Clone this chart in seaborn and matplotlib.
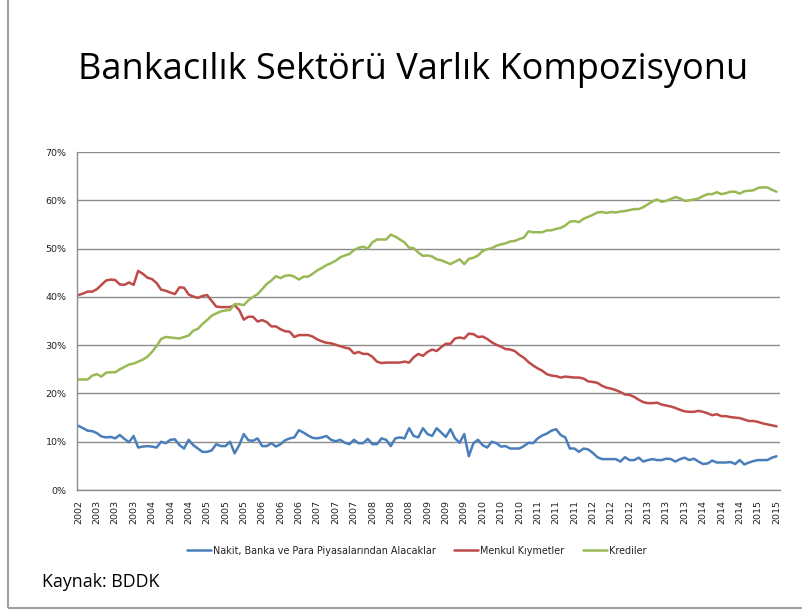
import numpy as np
import pandas as pd
import matplotlib
matplotlib.use("Agg")
import matplotlib.pyplot as plt
import seaborn as sns
from matplotlib.patches import Rectangle

# Aylık veriler: Aralık 2002 - Ağustos 2015 (aktif toplamı içindeki pay, %)
start_month = "2002-12"

nakit = [
    13.3, 12.8, 12.3, 12.2, 11.8, 11.1, 10.9, 11.0, 10.7, 11.4, 10.6, 9.9, 11.2, 8.8, 9.0, 9.1,
    9.0, 8.8, 10.0, 9.7, 10.4, 10.5, 9.3, 8.6, 10.4, 9.3, 8.6, 7.9, 7.9, 8.2, 9.5, 9.1,
    9.1, 10.0, 7.6, 9.3, 11.6, 10.3, 10.2, 10.7, 9.1, 9.1, 9.7, 9.0, 9.5, 10.3, 10.7, 10.9,
    12.4, 11.9, 11.3, 10.8, 10.7, 10.9, 11.2, 10.4, 10.1, 10.4, 9.8, 9.5, 10.4, 9.7, 9.7, 10.6,
    9.5, 9.5, 10.7, 10.4, 9.1, 10.7, 10.9, 10.7, 12.8, 11.2, 10.9, 12.8, 11.6, 11.2, 12.8, 11.9,
    11.0, 12.6, 10.7, 9.8, 11.6, 7.0, 9.7, 10.4, 9.3, 8.8, 10.0, 9.7, 9.0, 9.1, 8.6, 8.6,
    8.6, 9.1, 9.8, 9.7, 10.7, 11.3, 11.7, 12.3, 12.6, 11.4, 10.9, 8.6, 8.6, 7.9, 8.6, 8.4,
    7.7, 6.8, 6.4, 6.4, 6.4, 6.4, 5.9, 6.8, 6.2, 6.2, 6.7, 5.9, 6.2, 6.4, 6.2, 6.2,
    6.5, 6.4, 5.9, 6.4, 6.7, 6.2, 6.5, 5.9, 5.4, 5.5, 6.1, 5.7, 5.7, 5.7, 5.8, 5.4,
    6.2, 5.3, 5.7, 6.0, 6.2, 6.2, 6.2, 6.7, 7.0,
]

menkul = [
    40.4, 40.7, 41.1, 41.1, 41.6, 42.5, 43.4, 43.6, 43.5, 42.6, 42.5, 43.0, 42.5, 45.4, 44.8, 44.0,
    43.7, 42.9, 41.5, 41.3, 40.9, 40.6, 42.0, 41.9, 40.5, 40.1, 39.8, 40.2, 40.4, 39.2, 38.0, 37.9,
    37.9, 37.9, 38.3, 37.3, 35.3, 35.9, 35.9, 34.9, 35.2, 34.8, 33.9, 33.9, 33.3, 32.9, 32.8, 31.7,
    32.1, 32.1, 32.1, 31.8, 31.2, 30.8, 30.5, 30.4, 30.1, 29.8, 29.5, 29.3, 28.3, 28.6, 28.2, 28.2,
    27.6, 26.6, 26.3, 26.4, 26.4, 26.4, 26.4, 26.6, 26.4, 27.5, 28.2, 27.8, 28.6, 29.1, 28.8, 29.6,
    30.3, 30.3, 31.4, 31.6, 31.4, 32.4, 32.3, 31.7, 31.8, 31.3, 30.6, 30.1, 29.7, 29.2, 29.1, 28.8,
    28.0, 27.4, 26.5, 25.8, 25.2, 24.7, 24.0, 23.7, 23.6, 23.3, 23.5, 23.4, 23.3, 23.3, 23.1, 22.5,
    22.4, 22.2, 21.6, 21.2, 21.0, 20.7, 20.3, 19.8, 19.7, 19.3, 18.7, 18.2, 18.0, 18.0, 18.1, 17.7,
    17.5, 17.3, 17.0, 16.6, 16.3, 16.2, 16.2, 16.4, 16.2, 15.9, 15.5, 15.7, 15.3, 15.3, 15.1, 15.0,
    14.9, 14.6, 14.3, 14.3, 14.1, 13.8, 13.6, 13.4, 13.2,
]

krediler = [
    22.9, 22.9, 22.9, 23.7, 24.0, 23.5, 24.3, 24.4, 24.4, 25.0, 25.5, 26.0, 26.2, 26.6, 27.0, 27.6,
    28.6, 29.8, 31.3, 31.7, 31.6, 31.5, 31.4, 31.7, 32.0, 33.0, 33.4, 34.4, 35.2, 36.1, 36.6, 37.0,
    37.2, 37.3, 38.5, 38.5, 38.3, 39.3, 40.0, 40.6, 41.6, 42.7, 43.4, 44.3, 43.9, 44.4, 44.5, 44.2,
    43.6, 44.2, 44.2, 44.8, 45.5, 46.0, 46.6, 47.0, 47.5, 48.2, 48.6, 48.9, 49.7, 50.2, 50.4, 50.0,
    51.3, 51.9, 51.9, 51.9, 52.9, 52.5, 51.9, 51.3, 50.2, 50.1, 49.2, 48.5, 48.6, 48.4, 47.8, 47.6,
    47.2, 46.8, 47.3, 47.8, 46.8, 47.9, 48.1, 48.6, 49.5, 49.9, 50.1, 50.6, 50.9, 51.1, 51.5, 51.6,
    52.0, 52.3, 53.6, 53.4, 53.4, 53.4, 53.8, 53.8, 54.1, 54.3, 54.8, 55.6, 55.7, 55.5, 56.2, 56.6,
    57.0, 57.5, 57.6, 57.4, 57.6, 57.5, 57.7, 57.8, 58.0, 58.2, 58.2, 58.6, 59.2, 59.8, 60.2, 59.7,
    59.9, 60.3, 60.7, 60.4, 59.9, 60.0, 60.2, 60.4, 60.9, 61.3, 61.3, 61.7, 61.3, 61.5, 61.8, 61.8,
    61.4, 61.9, 62.0, 62.1, 62.6, 62.7, 62.7, 62.2, 61.8,
]

series_names = [
    "Nakit, Banka ve Para Piyasalarından Alacaklar",
    "Menkul Kıymetler",
    "Krediler",
]
colors = ["#4A7EBB", "#BE4B48", "#98B954"]

months = pd.period_range(start_month, periods=len(nakit), freq="M")
idx = np.arange(len(months))

df = pd.DataFrame({
    "ay": np.tile(idx, 3),
    "pay": np.concatenate([nakit, menkul, krediler]) / 100,
    "seri": np.repeat(series_names, len(idx)),
})

sns.set_style("white")
plt.rcParams["font.family"] = ["DejaVu Sans"]

fig = plt.figure(figsize=(8.03, 6.11), dpi=100)
ax = fig.add_axes([0.096, 0.198, 0.875, 0.553])

sns.lineplot(data=df, x="ay", y="pay", hue="seri", hue_order=series_names,
             palette=colors, linewidth=1.8, ax=ax, legend=True)

ax.set_ylim(0, 0.70)
ax.set_yticks(np.arange(0, 0.71, 0.10))
ax.set_yticklabels([f"{int(round(v * 100))}%" for v in np.arange(0, 0.71, 0.10)])
ax.set_xlim(-0.3, len(idx) - 0.3)
ax.set_xticks(idx[::4])
ax.set_xticklabels([str(p.year) for p in months[::4]], rotation=90)
ax.set_xticks(idx, minor=True)
ax.grid(axis="y", color="#8c8c8c", linewidth=1.0)
ax.set_axisbelow(True)
ax.set_xlabel("")
ax.set_ylabel("")
for side in ["top", "right"]:
    ax.spines[side].set_visible(False)
for side in ["left", "bottom"]:
    ax.spines[side].set_color("#8c8c8c")
    ax.spines[side].set_linewidth(1.0)
ax.tick_params(axis="x", which="both", direction="out", length=4, color="#8c8c8c",
               labelsize=6.8, pad=3, labelcolor="#222222")
ax.tick_params(axis="y", direction="out", length=4, color="#8c8c8c", labelsize=6.8,
               labelcolor="#222222")

handles, labels = ax.get_legend_handles_labels()
ax.get_legend().remove()
leg = fig.legend(handles, labels, loc="center", bbox_to_anchor=(0.519, 0.099), ncol=3,
                 frameon=False, fontsize=6.9, handlelength=2.5, handletextpad=0.2,
                 columnspacing=1.9)
for t in leg.get_texts():
    t.set_color("#222222")

fig.text(0.514, 0.885, "Bankacılık Sektörü Varlık Kompozisyonu", ha="center",
         va="center", fontsize=26, color="black", family=["Open Sans", "DejaVu Sans"])
fig.text(0.052, 0.047, "Kaynak: BDDK", ha="left", va="center", fontsize=12.8,
         color="black", family=["Open Sans", "DejaVu Sans"])

fig.patches.append(Rectangle((0.01, 0.005), 1.2, 1.2, transform=fig.transFigure,
                             fill=False, edgecolor="#a0a0a0", linewidth=1.5))

fig.savefig("out.png", dpi=100)
